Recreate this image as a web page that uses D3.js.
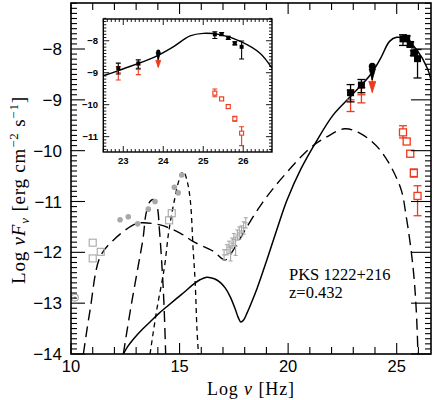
<!DOCTYPE html>
<html><head><meta charset="utf-8">
<script src="https://cdn.jsdelivr.net/npm/d3@7/dist/d3.min.js"></script>
<style>body{margin:0;background:#fff}svg{display:block}</style>
</head><body>
<script>
// ---- data (log nu [Hz], log nuFnu [erg cm^-2 s^-1]) ----
const modelTotal = [[12.41,-14.0],[12.6,-13.86],[12.87,-13.71],[13.3,-13.51],[13.64,-13.37],[14.0,-13.22],[14.41,-13.07],[14.8,-12.93],[15.17,-12.8],[15.6,-12.64],[15.94,-12.54],[16.25,-12.49],[16.6,-12.52],[16.87,-12.59],[17.1,-12.7],[17.33,-12.87],[17.55,-13.1],[17.7,-13.28],[17.82,-13.37],[17.95,-13.33],[18.10,-13.2],[18.3,-13.0],[18.56,-12.72],[19.02,-12.15],[19.63,-11.36],[19.95,-10.97],[20.6,-10.35],[21.24,-9.86],[22.07,-9.30],[22.86,-8.94],[23.78,-8.51],[24.25,-8.19],[24.67,-7.85],[25.0,-7.77],[25.42,-7.81],[25.93,-8.02],[26.42,-8.39],[26.72,-8.86]];
const modelEC = [[10.57,-14.0],[10.88,-13.13],[11.34,-12.09],[11.95,-11.76],[12.87,-11.46],[13.18,-11.42],[14.1,-11.46],[15.02,-11.62],[15.64,-11.79],[16.56,-11.98],[17.10,-12.15],[17.48,-11.95],[18.10,-11.50],[18.79,-11.04],[19.63,-10.58],[21.01,-9.95],[21.78,-9.73],[22.6,-9.57],[23.32,-9.66],[24.24,-9.99],[25.16,-10.71],[25.44,-11.30],[25.75,-12.28],[25.9,-13.13],[25.98,-14.0]];
const modelTorus = [[12.41,-14.0],[12.75,-13.1],[13.09,-12.28],[13.32,-11.72],[13.46,-11.23],[13.64,-11.0],[13.79,-10.96],[13.95,-11.07],[14.08,-11.6],[14.2,-12.35],[14.28,-13.0],[14.36,-14.0]];
const modelDisk = [[13.64,-14.0],[13.95,-13.13],[14.3,-12.3],[14.5,-11.6],[14.75,-11.0],[15.0,-10.55],[15.18,-10.41],[15.35,-10.6],[15.5,-11.0],[15.62,-11.9],[15.72,-12.6],[15.8,-13.5],[15.87,-14.0]];

const grayOpenSquares = [[11.0,-11.81],[11.0,-12.12],[11.37,-11.99],[14.52,-11.37],[14.64,-11.23]];
const grayDots = [[12.26,-11.36],[12.64,-11.30],[13.07,-11.44],[13.56,-11.15],[13.87,-11.0],[14.76,-10.72],[14.94,-10.83],[15.1,-10.48]];
const grayCircle = [[10.18,-12.89]];
// X-ray: [logNu, logNuFnu, err]
const xray = [[17.05,-12.05,0.1],[17.18,-11.95,0.1],[17.28,-11.9,0.12],[17.35,-12.02,0.15],[17.42,-11.82,0.1],[17.5,-11.75,0.12],[17.58,-11.88,0.18],[17.66,-11.66,0.1],[17.75,-11.62,0.12],[17.85,-11.58,0.1],[17.95,-11.52,0.12],[18.05,-11.42,0.1]];

// gamma rays: [logNu, logNuFnu, errLow, errHigh]
const blackGamma = [[22.875,-8.86,0.18,0.16],[23.375,-8.71,0.15,0.11]];
const blackLimit = [[23.875,-8.34]];
const blackTeV = [[25.29,-7.80,0.13,0.08],[25.46,-7.79,0.05,0.05],[25.625,-7.91,0.05,0.05],[25.79,-8.08,0.05,0.05],[25.96,-8.19,0.38,0.18]];
const redGamma = [[22.875,-9.0,0.23,0.19],[23.375,-8.90,0.16,0.14]];
const redLimit = [[23.875,-8.52]];
const redTeV = [[25.29,-9.64,0.11,0.13],[25.46,-9.82,0.05,0.05],[25.625,-10.06,0.06,0.06],[25.79,-10.44,0.08,0.08],[25.96,-10.89,0.39,0.2]];

const xMainTicks = [10,15,20,25];
const yMainTicks = [-8,-9,-10,-11,-12,-13,-14];
const xInsetTicks = [23,24,25,26];
const yInsetTicks = [-8,-9,-10,-11];

const RED = "#ee3a1c", GRAY = "#a8a8a8";
const W = 432, H = 400;
const svg = d3.select("body").append("svg").attr("width", W).attr("height", H);

const x = d3.scaleLinear().domain([10, 26.58]).range([71, 431]);
const y = d3.scaleLinear().domain([-14, -7.095]).range([354, 3]);
const xi = d3.scaleLinear().domain([22.5, 26.72]).range([103.3, 272]);
const yi = d3.scaleLinear().domain([-11.48, -7.32]).range([152, 19]);

const fmt = d => (d < 0 ? "\u2212" + Math.abs(d) : "" + d);
const rng = (a, b, s) => d3.range(Math.round(a / s), Math.round(b / s) + 1).map(v => +(v * s).toFixed(3));

svg.append("defs").append("clipPath").attr("id", "clipMain")
  .append("rect").attr("x", 71).attr("y", 3).attr("width", 360).attr("height", 351);
svg.select("defs").append("clipPath").attr("id", "clipIn")
  .append("rect").attr("x", 103.3).attr("y", 19).attr("width", 168.7).attr("height", 133);

function frame(g, xs, ys, o) {
  const [x0, x1] = xs.range(), [y0, y1] = ys.range();
  const isMajX = d => { const r = Math.abs(d / o.xM - Math.round(d / o.xM)); return r < 1e-6; };
  const xMinor = rng(Math.ceil(xs.domain()[0] / o.xm) * o.xm, xs.domain()[1], o.xm);
  g.selectAll(null).data(xMinor).join("line")
    .attr("x1", d => xs(d)).attr("x2", d => xs(d))
    .attr("y1", y0).attr("y2", d => y0 - (isMajX(d) ? o.xLM : o.xLm))
    .attr("stroke", "#000").attr("stroke-width", o.tw);
  g.selectAll(null).data(xMinor).join("line")
    .attr("x1", d => xs(d)).attr("x2", d => xs(d))
    .attr("y1", y1).attr("y2", d => y1 + (isMajX(d) ? o.xLM : o.xLm))
    .attr("stroke", "#000").attr("stroke-width", o.tw);
  const yMinor = rng(Math.ceil(ys.domain()[0] / o.ym) * o.ym, ys.domain()[1], o.ym);
  const isMajY = d => Math.abs(d - Math.round(d)) < 1e-6;
  g.selectAll(null).data(yMinor).join("line")
    .attr("x1", x0).attr("x2", d => x0 + (isMajY(d) ? o.yLM : o.yLm))
    .attr("y1", d => ys(d)).attr("y2", d => ys(d))
    .attr("stroke", "#000").attr("stroke-width", o.tw);
  g.selectAll(null).data(yMinor).join("line")
    .attr("x1", x1).attr("x2", d => x1 - (isMajY(d) ? o.yLM2 : o.yLm))
    .attr("y1", d => ys(d)).attr("y2", d => ys(d))
    .attr("stroke", "#000").attr("stroke-width", o.tw);
  g.append("rect").attr("x", x0).attr("y", y1).attr("width", x1 - x0).attr("height", y0 - y1)
    .attr("fill", "none").attr("stroke", "#000").attr("stroke-width", o.fw);
}

// ---------- main panel ----------
const main = svg.append("g");
const line = d3.line().x(d => x(d[0])).y(d => y(d[1])).curve(d3.curveCatmullRom.alpha(0.5));
const mc = main.append("g").attr("clip-path", "url(#clipMain)");

mc.append("path").attr("d", line(modelEC)).attr("fill", "none").attr("stroke", "#000").attr("stroke-width", 1.4).attr("stroke-dasharray", "11,6");
mc.append("path").attr("d", line(modelTorus)).attr("fill", "none").attr("stroke", "#000").attr("stroke-width", 1.4).attr("stroke-dasharray", "11,6");
mc.append("path").attr("d", line(modelDisk)).attr("fill", "none").attr("stroke", "#000").attr("stroke-width", 1.3).attr("stroke-dasharray", "5,4");
mc.append("path").attr("d", line(modelTotal)).attr("fill", "none").attr("stroke", "#000").attr("stroke-width", 1.5);

// gray low-energy data
mc.selectAll(null).data(grayOpenSquares).join("rect")
  .attr("x", d => x(d[0]) - 3.5).attr("y", d => y(d[1]) - 3.5).attr("width", 7).attr("height", 7)
  .attr("fill", "none").attr("stroke", GRAY).attr("stroke-width", 1.1);
mc.selectAll(null).data(grayDots).join("circle")
  .attr("cx", d => x(d[0])).attr("cy", d => y(d[1])).attr("r", 2.8).attr("fill", GRAY);
mc.selectAll(null).data(grayCircle).join("circle")
  .attr("cx", d => x(d[0])).attr("cy", d => y(d[1])).attr("r", 3.5).attr("fill", "none").attr("stroke", GRAY).attr("stroke-width", 1.1);
mc.selectAll(null).data(grayCircle).join("circle")
  .attr("cx", d => x(d[0])).attr("cy", d => y(d[1])).attr("r", 1.2).attr("fill", GRAY);

// X-ray
const xg = mc.append("g").attr("stroke", GRAY).attr("stroke-width", 1.1).attr("fill", "none");
xray.forEach(d => {
  const cx = x(d[0]), yt = y(d[1] + d[2]), yb = y(d[1] - d[2]);
  xg.append("line").attr("x1", cx).attr("x2", cx).attr("y1", yt).attr("y2", yb);
  xg.append("line").attr("x1", cx - 2).attr("x2", cx + 2).attr("y1", yt).attr("y2", yt);
  xg.append("line").attr("x1", cx - 2).attr("x2", cx + 2).attr("y1", yb).attr("y2", yb);
  xg.append("line").attr("x1", cx - 2).attr("x2", cx + 2).attr("y1", y(d[1])).attr("y2", y(d[1]));
});

function errBars(g, data, xs, ys, color, cap, sw) {
  data.forEach(d => {
    const cx = xs(d[0]), yt = ys(d[1] + d[3]), yb = ys(d[1] - d[2]);
    g.append("line").attr("x1", cx).attr("x2", cx).attr("y1", yt).attr("y2", yb).attr("stroke", color).attr("stroke-width", sw);
    g.append("line").attr("x1", cx - cap).attr("x2", cx + cap).attr("y1", yt).attr("y2", yt).attr("stroke", color).attr("stroke-width", sw);
    g.append("line").attr("x1", cx - cap).attr("x2", cx + cap).attr("y1", yb).attr("y2", yb).attr("stroke", color).attr("stroke-width", sw);
  });
}
function arrow(g, d, xs, ys, color, len, hw, hl) {
  const cx = xs(d[0]), cy = ys(d[1]);
  g.append("line").attr("x1", cx).attr("x2", cx).attr("y1", cy).attr("y2", cy + len).attr("stroke", color).attr("stroke-width", 1.3);
  g.append("path").attr("d", `M${cx - hw},${cy + len - hl}L${cx + hw},${cy + len - hl}L${cx},${cy + len}Z`).attr("fill", color).attr("stroke", color).attr("stroke-width", 0.8);
}

function gammaPoints(g, xs, ys, s) {
  errBars(g, redGamma, xs, ys, RED, s.cap, s.sw);
  errBars(g, redTeV, xs, ys, RED, s.cap, s.sw);
  g.selectAll(null).data(redGamma).join("line")
    .attr("x1", d => xs(d[0]) - s.cap).attr("x2", d => xs(d[0]) + s.cap)
    .attr("y1", d => ys(d[1])).attr("y2", d => ys(d[1])).attr("stroke", RED).attr("stroke-width", s.sw);
  g.selectAll(null).data(redTeV).join("rect")
    .attr("x", d => xs(d[0]) - s.sq / 2).attr("y", d => ys(d[1]) - s.sq / 2).attr("width", s.sq).attr("height", s.sq)
    .attr("fill", "#fff").attr("stroke", RED).attr("stroke-width", s.sw);
  redLimit.forEach(d => arrow(g, d, xs, ys, RED, s.alen, s.ahw, s.ahl));
  blackLimit.forEach(d => arrow(g, d, xs, ys, "#000", s.alen * 0.8, s.ahw * 0.9, s.ahl));
  g.selectAll(null).data(blackLimit).join("circle")
    .attr("cx", d => xs(d[0])).attr("cy", d => ys(d[1])).attr("r", s.sq / 2).attr("fill", "#000");
  errBars(g, blackGamma, xs, ys, "#000", s.cap, s.sw);
  errBars(g, blackTeV, xs, ys, "#000", s.cap, s.sw);
  g.selectAll(null).data(blackGamma.concat(blackTeV)).join("rect")
    .attr("x", d => xs(d[0]) - s.sq / 2).attr("y", d => ys(d[1]) - s.sq / 2).attr("width", s.sq).attr("height", s.sq)
    .attr("fill", "#000");
}
gammaPoints(mc.append("g"), x, y, {cap: 4, sw: 1.3, sq: 7, alen: 17, ahw: 3.5, ahl: 11});

frame(main, x, y, {xm: 1, xM: 5, xLm: 7, xLM: 11, ym: 0.1, yLm: 6, yLM: 14, yLM2: 20, tw: 1.1, fw: 1.6});

main.selectAll(null).data(xMainTicks).join("text")
  .attr("x", d => x(d)).attr("y", 372).attr("text-anchor", "middle")
  .attr("font-family", "Liberation Sans, Arial, sans-serif").attr("font-size", 16.5).text(d => d);
main.selectAll(null).data(yMainTicks).join("text")
  .attr("x", 62).attr("y", d => y(d) + 6).attr("text-anchor", "end")
  .attr("font-family", "Liberation Sans, Arial, sans-serif").attr("font-size", 17).text(fmt);

// axis titles
const serif = "Liberation Serif, Times New Roman, serif";
const xt = svg.append("text").attr("x", 251).attr("y", 395).attr("text-anchor", "middle")
  .attr("font-family", serif).attr("font-size", 18).attr("letter-spacing", 0.9);
xt.append("tspan").text("Log ");
xt.append("tspan").attr("font-style", "italic").text("\u03bd");
xt.append("tspan").text(" [Hz]");

const yt = svg.append("text").attr("transform", "translate(25,190) rotate(-90)").attr("text-anchor", "middle")
  .attr("font-family", serif).attr("font-size", 19).attr("letter-spacing", 0.8);
yt.append("tspan").text("Log ");
yt.append("tspan").attr("font-style", "italic").text("\u03bdF");
yt.append("tspan").attr("font-style", "italic").attr("font-size", 13).attr("dy", 4).text("\u03bd");
yt.append("tspan").attr("dy", -4).text(" [erg cm");
yt.append("tspan").attr("font-size", 13).attr("dy", -7).text("\u22122");
yt.append("tspan").attr("dy", 7).text(" s");
yt.append("tspan").attr("font-size", 13).attr("dy", -7).text("\u22121");
yt.append("tspan").attr("dy", 7).text("]");

svg.append("text").attr("x", 289).attr("y", 280).attr("font-family", serif).attr("font-size", 16.5).text("PKS 1222+216");
svg.append("text").attr("x", 289).attr("y", 298).attr("font-family", serif).attr("font-size", 16.5).text("z=0.432");

// ---------- inset ----------
const inset = svg.append("g");
inset.append("rect").attr("x", 103.3).attr("y", 19).attr("width", 168.7).attr("height", 133).attr("fill", "#fff");
const lineIn = d3.line().x(d => xi(d[0])).y(d => yi(d[1])).curve(d3.curveCatmullRom.alpha(0.5));
const ic = inset.append("g").attr("clip-path", "url(#clipIn)");
ic.append("path").attr("d", lineIn(modelTotal)).attr("fill", "none").attr("stroke", "#000").attr("stroke-width", 1.4);
gammaPoints(ic.append("g"), xi, yi, {cap: 2.5, sw: 1.1, sq: 4, alen: 10, ahw: 2.5, ahl: 7});
frame(inset, xi, yi, {xm: 0.1, xM: 1, xLm: 3, xLM: 6, ym: 0.1, yLm: 3, yLM: 6, yLM2: 6, tw: 0.9, fw: 1.4});
inset.selectAll(null).data(xInsetTicks).join("text")
  .attr("x", d => xi(d)).attr("y", 164).attr("text-anchor", "middle")
  .attr("font-family", "Liberation Sans, Arial, sans-serif").attr("font-weight", "bold").attr("font-size", 9.5).text(d => d);
inset.selectAll(null).data(yInsetTicks).join("text")
  .attr("x", 98).attr("y", d => yi(d) + 3.5).attr("text-anchor", "end")
  .attr("font-family", "Liberation Sans, Arial, sans-serif").attr("font-weight", "bold").attr("font-size", 9.5).text(fmt);
</script>
</body></html>
